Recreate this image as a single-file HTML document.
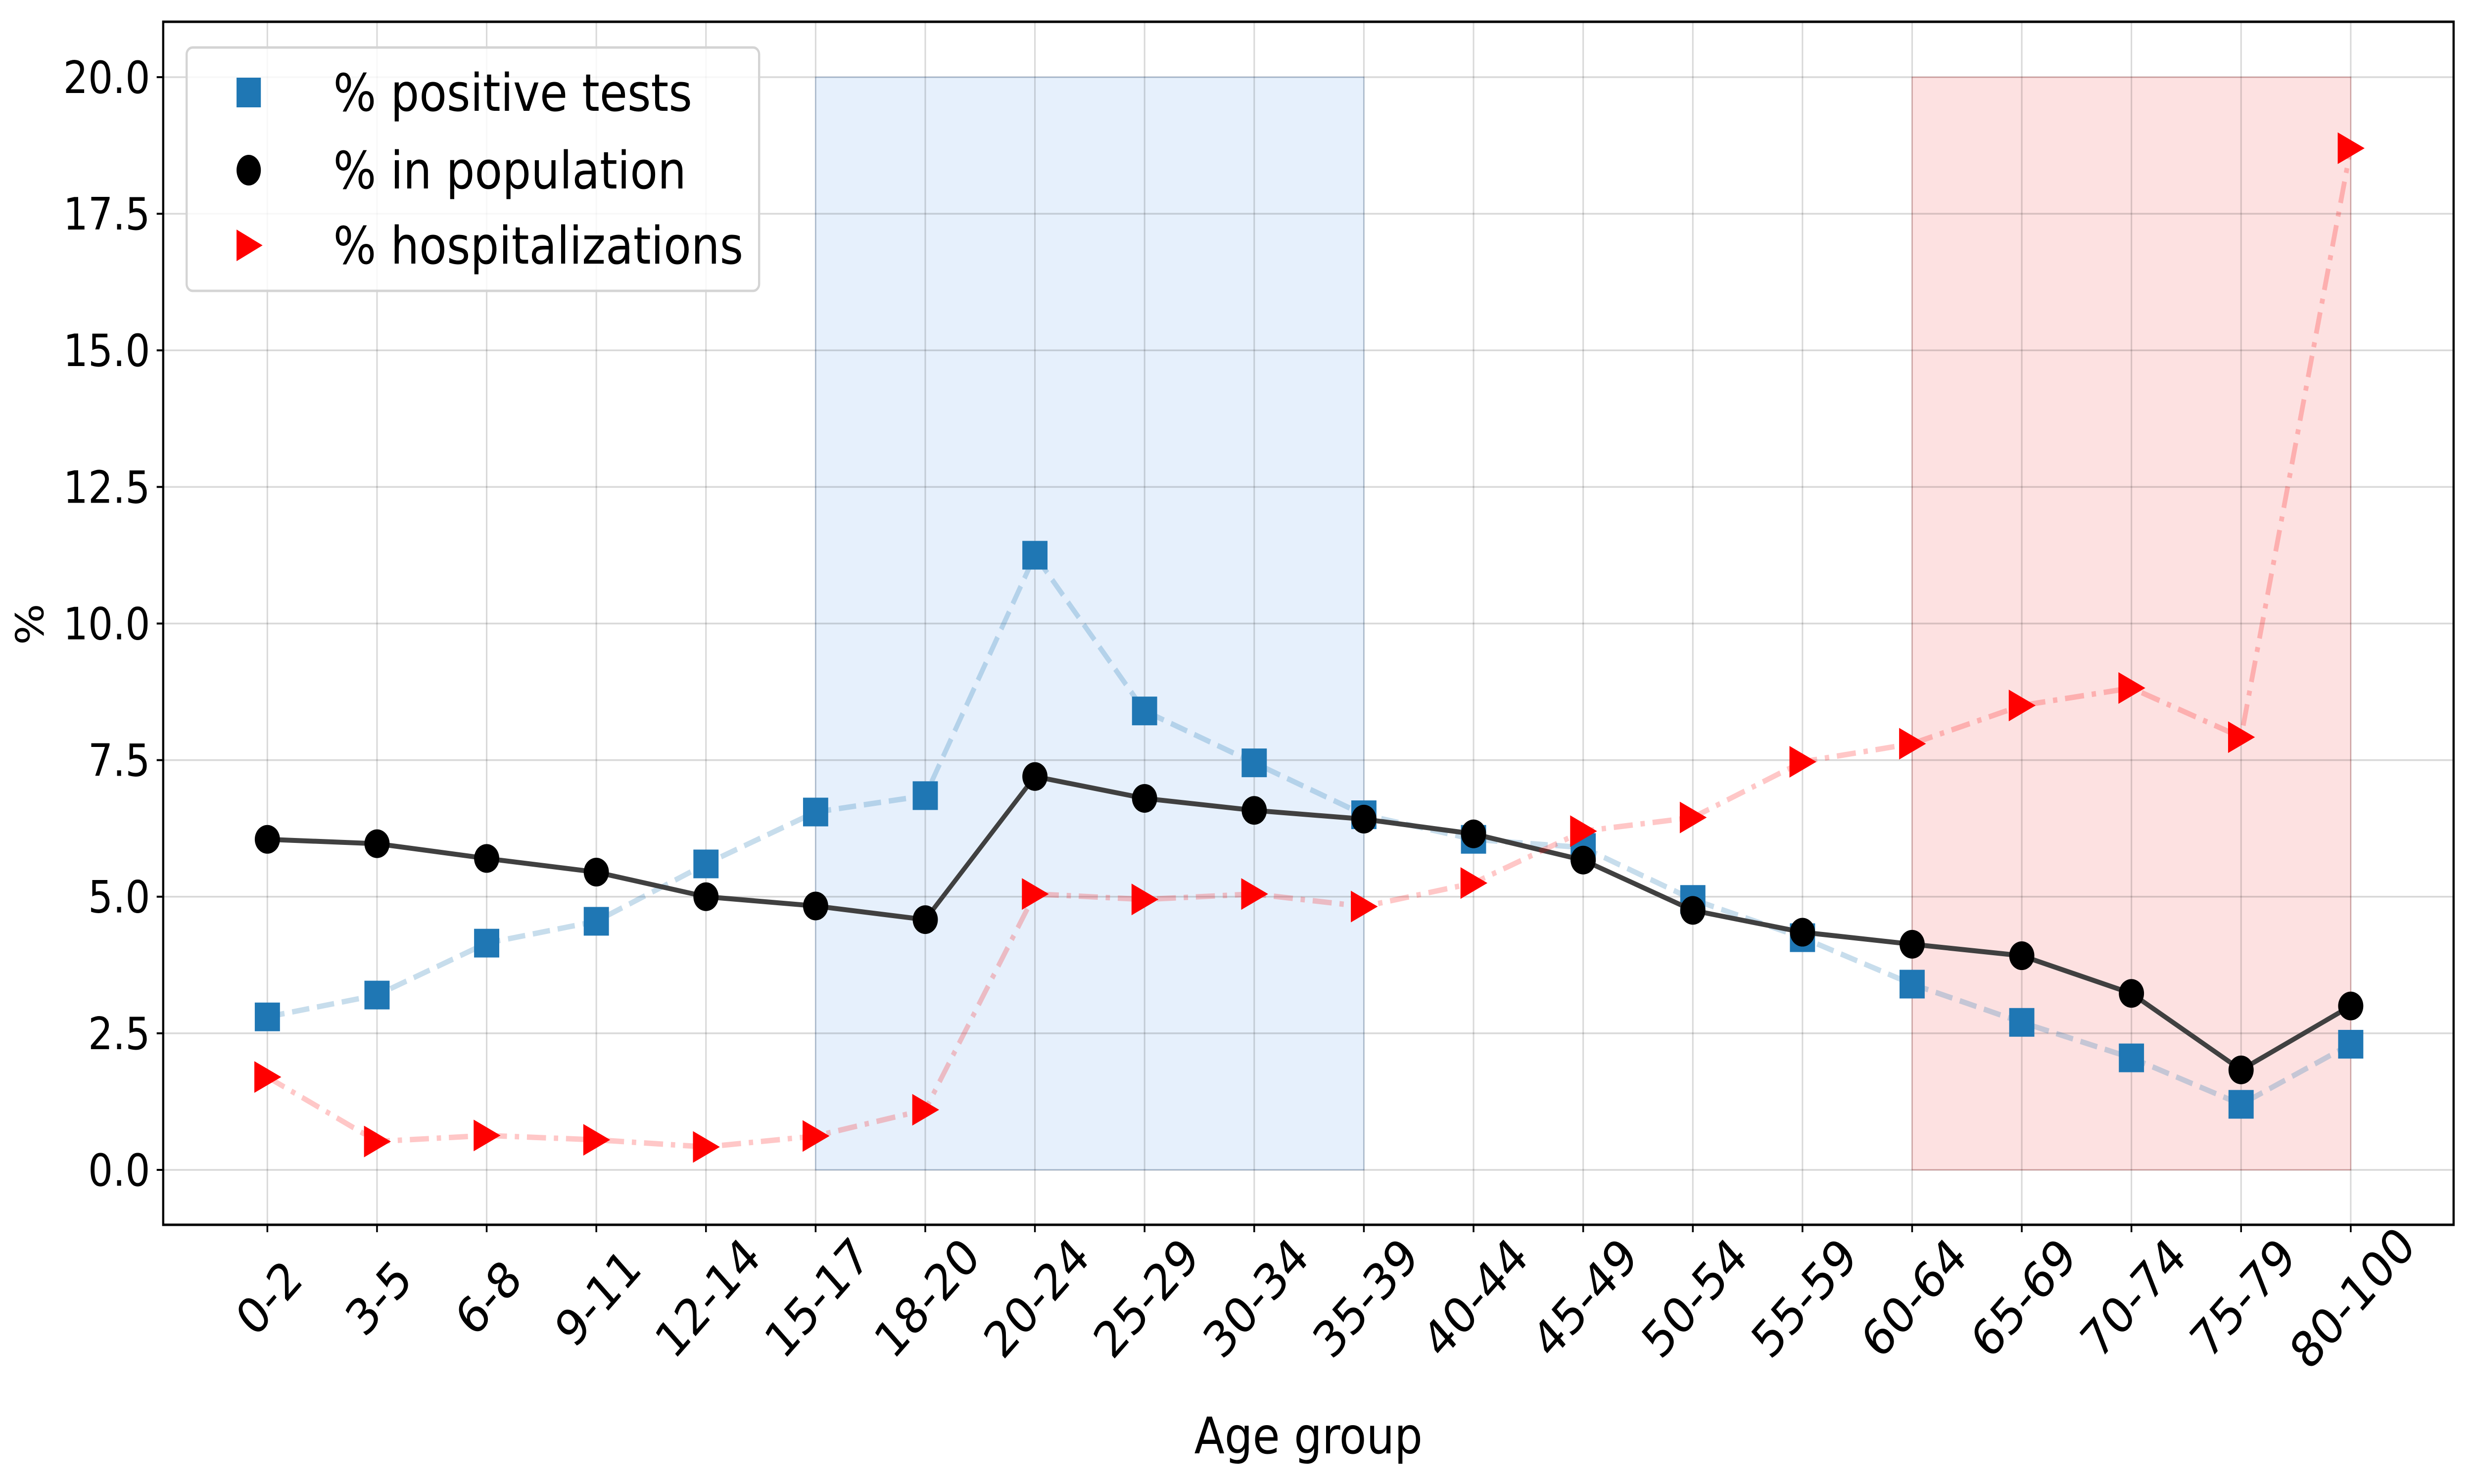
<!DOCTYPE html>
<html><head><meta charset="utf-8"><style>
html,body{margin:0;padding:0;background:#fff;width:100%;height:100%;overflow:hidden;}
svg{display:block;position:absolute;left:0;top:0;width:100vw;height:100vh;font-family:"DejaVu Sans","Liberation Sans",sans-serif;}
</style></head><body>
<svg id="chart" viewBox="0 0 5700 3000" preserveAspectRatio="none" xmlns="http://www.w3.org/2000/svg">
<g id="spans"></g><g id="grid"></g><g id="series"></g><g id="axes"></g><g id="legend"></g>
</svg>
<script>
const categories=["0-2","3-5","6-8","9-11","12-14","15-17","18-20","20-24","25-29","30-34","35-39","40-44","45-49","50-54","55-59","60-64","65-69","70-74","75-79","80-100"];
const positiveTests=[2.8,3.2,4.15,4.55,5.6,6.55,6.85,11.25,8.4,7.45,6.5,6.05,5.9,4.95,4.25,3.4,2.7,2.05,1.2,2.3];
const population=[6.05,5.97,5.7,5.45,5.0,4.83,4.58,7.2,6.8,6.58,6.42,6.15,5.67,4.75,4.35,4.13,3.92,3.23,1.83,3.0];
const hospitalizations=[1.7,0.52,0.63,0.55,0.42,0.62,1.1,5.05,4.95,5.05,4.82,5.25,6.2,6.45,7.47,7.8,8.5,8.82,7.92,18.7];
const yTicks=[0,2.5,5,7.5,10,12.5,15,17.5,20];
const yTickLabels=["0.0","2.5","5.0","7.5","10.0","12.5","15.0","17.5","20.0"];
const blueSpan=[5,10];
const redSpan=[15,19];
const spanTop=20;

const NS="http://www.w3.org/2000/svg";
const L=376,R=5653,T=44,B=2476;
const x0=616,dx=(5416-616)/19;
function X(i){return x0+i*dx;}
function Y(v){return 2365-v*110.45;}
function mk(tag,attrs,parent){const e=document.createElementNS(NS,tag);for(const k in attrs)e.setAttribute(k,attrs[k]);parent.appendChild(e);return e;}
const spans=document.getElementById('spans'),grid=document.getElementById('grid'),ser=document.getElementById('series'),axes=document.getElementById('axes'),leg=document.getElementById('legend');

let s=mk('rect',{x:X(blueSpan[0]),y:Y(spanTop),width:X(blueSpan[1])-X(blueSpan[0]),height:Y(0)-Y(spanTop),fill:'#e6f0fc',stroke:'#bcd3ee','stroke-width':2},spans);


s=mk('rect',{x:X(redSpan[0]),y:Y(spanTop),width:X(redSpan[1])-X(redSpan[0]),height:Y(0)-Y(spanTop),fill:'#fde1e1',stroke:'#f3b6b6','stroke-width':2},spans);



categories.forEach((c,i)=>{
 const g=mk('line',{x1:X(i),x2:X(i),y1:T,y2:B,stroke:'#000','stroke-opacity':0.15,'stroke-width':3.5},grid);
 
 
 const t=mk('line',{x1:X(i),x2:X(i),y1:B,y2:B+15,stroke:'#000','stroke-width':4},axes);
 
 
 const cx=X(i)+5,cy=2625;
 const lb=mk('text',{x:cx,y:cy,'font-size':100,'text-anchor':'middle','dominant-baseline':'central',transform:`rotate(-45 ${cx} ${cy})`},axes);
 lb.textContent=c;
 
 
});
yTicks.forEach((v,i)=>{
 const g=mk('line',{x1:L,x2:R,y1:Y(v),y2:Y(v),stroke:'#000','stroke-opacity':0.15,'stroke-width':3.5},grid);
 
 
 const t=mk('line',{x1:L-15,x2:L,y1:Y(v),y2:Y(v),stroke:'#000','stroke-width':4},axes);
 
 
 const lb=mk('text',{x:L-30,y:Y(v)+32,'font-size':90,'text-anchor':'end'},axes);
 lb.textContent=yTickLabels[i];
 
 
});
const frame=mk('rect',{x:L,y:T,width:R-L,height:B-T,fill:'none',stroke:'#000','stroke-width':5},axes);


let t=mk('text',{x:(L+R)/2,y:2938,'font-size':102,'text-anchor':'middle'},axes);t.textContent='Age group';


t=mk('text',{x:100,y:1262,'font-size':88,'text-anchor':'middle',transform:'rotate(-90 100 1262)'},axes);t.textContent='%';



function pts(arr){return arr.map((v,i)=>X(i)+','+Y(v)).join(' ');}
let ln=mk('polyline',{points:pts(positiveTests),fill:'none',stroke:'#1f77b4','stroke-opacity':0.25,'stroke-width':11,'stroke-dasharray':'40 18'},ser);


positiveTests.forEach((v,i)=>{const m=mk('rect',{x:X(i)-29,y:Y(v)-29,width:58,height:58,fill:'#1f77b4'},ser);
 
 });
ln=mk('polyline',{points:pts(population),fill:'none',stroke:'#404040','stroke-width':10},ser);


population.forEach((v,i)=>{const m=mk('circle',{cx:X(i),cy:Y(v),r:29,fill:'#000'},ser);
 
 });
ln=mk('polyline',{points:pts(hospitalizations),fill:'none',stroke:'#ff0000','stroke-opacity':0.22,'stroke-width':11,'stroke-dasharray':'44 18 10 18'},ser);


hospitalizations.forEach((v,i)=>{const x=X(i),y=Y(v);const m=mk('polygon',{points:`${x-30},${y-32} ${x+32},${y} ${x-30},${y+32}`,fill:'#ff0000'},ser);
 
 });

const lb=mk('rect',{x:430,y:96,width:1319,height:492,rx:14,fill:'#fff','fill-opacity':0.8,stroke:'#d4d4d4','stroke-width':5},leg);


const rows=[['% positive tests',187,'sq'],['% in population',344,'ci'],['% hospitalizations',496,'tr']];
rows.forEach(r=>{
 const y=r[1];let m;
 if(r[2]==='sq')m=mk('rect',{x:545,y:y-30,width:56,height:60,fill:'#1f77b4'},leg);
 else if(r[2]==='ci')m=mk('ellipse',{cx:573,cy:y,rx:28,ry:31,fill:'#000'},leg);
 else m=mk('polygon',{points:`545,${y-32} 605,${y} 545,${y+32}`,fill:'#ff0000'},leg);
 
 
 const tx=mk('text',{x:768,y:y+37,'font-size':104},leg);tx.textContent=r[0];
 
 
});
</script>
</body></html>
